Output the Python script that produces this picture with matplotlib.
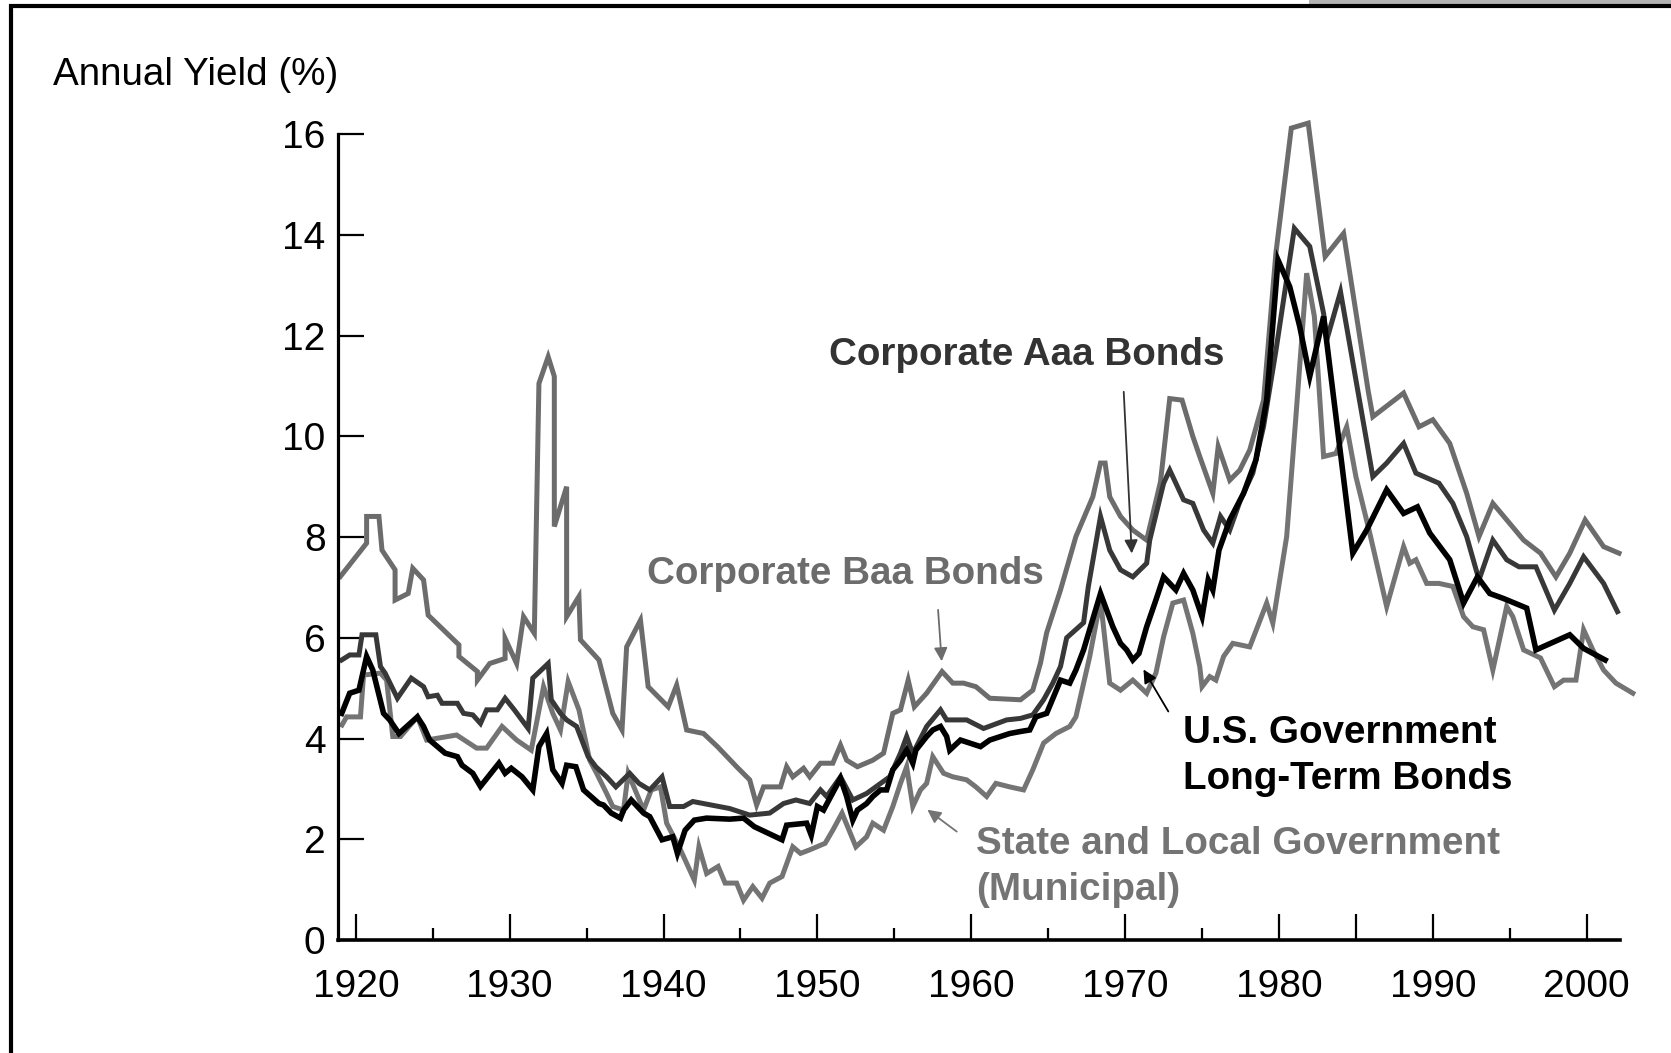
import matplotlib
matplotlib.use("Agg")
import matplotlib.pyplot as plt
from matplotlib.lines import Line2D
from matplotlib.patches import Rectangle

plt.rcParams['font.family'] = ['Liberation Sans', 'DejaVu Sans']

# Corporate Baa bonds
baa_years = [1919.0, 1920.7, 1920.7, 1921.5, 1921.7, 1922.55, 1922.55, 1923.4, 1923.7, 1924.4,
             1924.7, 1926.7, 1926.7, 1927.9, 1927.9, 1928.7, 1929.7, 1929.7, 1930.45, 1930.9,
             1931.6, 1931.9, 1932.5, 1932.9, 1932.9, 1933.7, 1933.7, 1934.5, 1934.6, 1935.2,
             1935.8, 1936.7, 1937.3, 1937.6, 1938.5, 1939.0, 1940.3, 1940.85, 1941.5, 1942.6,
             1943.5, 1944.75, 1945.6, 1946.05, 1946.5, 1947.6, 1948.0, 1948.4, 1949.1, 1949.5,
             1950.2, 1951.0, 1951.5, 1951.9, 1952.6, 1953.6, 1954.3, 1954.9, 1955.4, 1955.9,
             1956.3, 1957.1, 1958.1, 1958.8, 1959.5, 1960.3, 1961.2, 1963.2, 1964.0, 1964.5,
             1964.9, 1965.8, 1966.8, 1967.9, 1968.4, 1968.7, 1969.0, 1969.7, 1970.5, 1971.4,
             1972.3, 1972.9, 1973.7, 1974.4, 1974.85, 1975.7, 1976.05, 1976.8, 1977.45, 1978.1,
             1979.0, 1979.8, 1980.8, 1981.9, 1983.0, 1984.2, 1985.8, 1986.1, 1988.1, 1989.1,
             1990.0, 1991.1, 1992.2, 1993.0, 1993.9, 1995.0, 1995.9, 1997.0, 1998.0, 1998.9,
             1999.9, 2001.1, 2002.1]
baa_yield = [7.22, 7.88, 8.41, 8.41, 7.74, 7.35, 6.75, 6.88, 7.38, 7.15,
             6.45, 5.86, 5.63, 5.33, 5.16, 5.49, 5.59, 5.99, 5.49, 6.42,
             6.09, 11.05, 11.58, 11.19, 8.21, 9.00, 6.42, 6.82, 5.96, 5.76,
             5.56, 4.50, 4.17, 5.82, 6.35, 5.03, 4.63, 5.06, 4.17, 4.10,
             3.84, 3.44, 3.18, 2.68, 3.04, 3.04, 3.44, 3.24, 3.41, 3.24,
             3.51, 3.51, 3.87, 3.57, 3.44, 3.57, 3.71, 4.50, 4.57, 5.16,
             4.63, 4.90, 5.33, 5.10, 5.10, 5.03, 4.80, 4.77, 4.96, 5.50,
             6.10, 6.95, 8.01, 8.80, 9.47, 9.47, 8.80, 8.41, 8.14, 7.94,
             9.10, 10.75, 10.72, 10.00, 9.60, 8.87, 9.80, 9.13, 9.33, 9.73,
             10.72, 13.64, 16.12, 16.22, 13.57, 14.03, 10.90, 10.39, 10.86, 10.19,
             10.33, 9.86, 8.87, 8.01, 8.67, 8.27, 7.94, 7.68, 7.21, 7.68,
             8.34, 7.81, 7.68]

# Corporate Aaa bonds
aaa_years = [1919.08, 1919.6, 1920.2, 1920.4, 1921.3, 1921.6, 1921.9, 1922.7, 1923.6, 1924.4,
             1924.7, 1925.3, 1925.6, 1926.6, 1927.0, 1927.6, 1928.1, 1928.5, 1929.2, 1929.7,
             1930.3, 1931.2, 1931.5, 1932.5, 1932.7, 1933.3, 1933.7, 1934.35, 1935.1, 1935.6,
             1936.3, 1936.9, 1937.8, 1938.4, 1939.1, 1939.9, 1940.4, 1941.3, 1941.9, 1944.3,
             1945.6, 1946.9, 1947.8, 1948.6, 1949.5, 1950.2, 1950.6, 1951.5, 1952.3, 1953.2,
             1954.7, 1955.4, 1955.8, 1956.2, 1957.1, 1958.0, 1958.4, 1959.7, 1960.8, 1962.3,
             1963.2, 1964.0, 1964.7, 1965.3, 1965.8, 1966.2, 1967.3, 1967.6, 1968.4, 1969.0,
             1969.7, 1970.5, 1971.4, 1971.6, 1972.5, 1972.9, 1973.8, 1974.4, 1975.1, 1975.7,
             1976.2, 1976.8, 1977.5, 1978.3, 1979.0, 1979.8, 1981.0, 1982.0, 1982.9, 1983.1,
             1984.0, 1986.1, 1987.0, 1988.1, 1988.9, 1990.4, 1991.3, 1992.2, 1993.0, 1993.9,
             1994.8, 1995.6, 1996.7, 1997.9, 1998.9, 1999.8, 2001.1, 2002.0]
aaa_yield = [5.56, 5.66, 5.66, 6.06, 6.06, 5.43, 5.30, 4.80, 5.20, 5.03,
             4.83, 4.86, 4.70, 4.70, 4.50, 4.47, 4.30, 4.57, 4.57, 4.80,
             4.57, 4.20, 5.20, 5.49, 4.77, 4.50, 4.37, 4.24, 3.64, 3.44,
             3.24, 3.04, 3.31, 3.11, 2.98, 3.24, 2.65, 2.65, 2.75, 2.61,
             2.48, 2.52, 2.71, 2.78, 2.71, 2.98, 2.85, 3.24, 2.78, 2.91,
             3.24, 3.71, 4.04, 3.70, 4.24, 4.57, 4.37, 4.37, 4.20, 4.37,
             4.40, 4.47, 4.77, 5.10, 5.43, 6.00, 6.30, 7.00, 8.41, 7.74,
             7.35, 7.21, 7.48, 7.94, 9.07, 9.33, 8.74, 8.67, 8.14, 7.88,
             8.41, 8.14, 8.74, 9.27, 10.20, 11.70, 14.13, 13.77, 12.44, 11.91,
             12.87, 9.20, 9.47, 9.86, 9.27, 9.07, 8.67, 8.01, 7.15, 7.94,
             7.55, 7.41, 7.41, 6.55, 7.08, 7.61, 7.08, 6.52]

# U.S. Government long-term bonds
gov_years = [1919.08, 1919.6, 1920.2, 1920.7, 1921.1, 1921.8, 1922.2, 1922.8, 1924.0, 1924.4,
             1924.8, 1925.8, 1926.6, 1926.9, 1927.6, 1928.1, 1929.3, 1929.7, 1930.1, 1930.8,
             1931.5, 1931.9, 1932.4, 1932.8, 1933.4, 1933.7, 1934.3, 1934.8, 1935.8, 1936.1,
             1936.6, 1937.2, 1937.4, 1937.9, 1938.7, 1939.1, 1939.9, 1940.6, 1940.9, 1941.4,
             1942.0, 1942.8, 1944.3, 1945.2, 1945.9, 1947.7, 1948.0, 1949.3, 1949.6, 1950.0,
             1950.4, 1950.8, 1951.5, 1951.9, 1952.3, 1952.6, 1953.2, 1953.6, 1954.1, 1954.5,
             1954.9, 1955.4, 1955.8, 1956.2, 1956.4, 1957.1, 1957.5, 1958.0, 1958.4, 1958.6,
             1959.3, 1960.6, 1961.2, 1962.5, 1963.2, 1963.8, 1964.2, 1964.9, 1965.8, 1966.4,
             1966.8, 1967.3, 1968.4, 1969.2, 1969.7, 1970.1, 1970.5, 1970.9, 1971.4, 1972.0,
             1972.5, 1973.3, 1973.8, 1974.4, 1975.0, 1975.4, 1975.7, 1976.1, 1976.8, 1977.7,
             1978.5, 1979.2, 1979.94, 1980.7, 1981.35, 1982.0, 1982.9, 1984.8, 1985.7, 1987.0,
             1988.1, 1989.0, 1989.8, 1991.1, 1992.0, 1992.9, 1993.7, 1994.6, 1996.1, 1996.7,
             1998.9, 1999.8, 2001.2]
gov_yield = [4.50, 4.90, 4.96, 5.63, 5.36, 4.50, 4.37, 4.10, 4.43, 4.24,
             3.97, 3.71, 3.64, 3.47, 3.31, 3.05, 3.51, 3.31, 3.41, 3.24,
             2.98, 3.84, 4.10, 3.38, 3.11, 3.47, 3.44, 2.98, 2.71, 2.68,
             2.52, 2.42, 2.58, 2.78, 2.52, 2.45, 1.99, 2.05, 1.72, 2.18,
             2.38, 2.42, 2.40, 2.42, 2.25, 1.99, 2.28, 2.32, 2.08, 2.65,
             2.58, 2.81, 3.21, 2.85, 2.38, 2.58, 2.71, 2.85, 2.98, 2.98,
             3.38, 3.57, 3.77, 3.51, 3.77, 4.04, 4.17, 4.24, 4.04, 3.77,
             3.97, 3.84, 3.97, 4.10, 4.14, 4.17, 4.43, 4.50, 5.16, 5.10,
             5.36, 5.76, 6.88, 6.22, 5.89, 5.76, 5.56, 5.69, 6.22, 6.75,
             7.21, 6.95, 7.28, 6.95, 6.42, 7.15, 6.95, 7.74, 8.34, 8.87,
             9.53, 10.72, 13.50, 12.97, 12.18, 11.19, 12.38, 7.68, 8.14, 8.94,
             8.47, 8.60, 8.08, 7.55, 6.69, 7.21, 6.88, 6.78, 6.59, 5.76,
             6.06, 5.79, 5.56]

# State and local government (municipal) bonds
muni_years = [1919.1, 1919.4, 1920.3, 1920.5, 1921.6, 1922.0, 1922.4, 1922.9, 1924.0, 1924.6,
              1926.55, 1927.85, 1928.5, 1929.5, 1930.45, 1931.4, 1932.2, 1932.8, 1933.3, 1933.8,
              1934.5, 1935.2, 1935.65, 1936.3, 1936.7, 1937.4, 1937.7, 1938.25, 1938.7, 1939.2,
              1939.8, 1940.2, 1941.1, 1942.0, 1942.3, 1942.8, 1943.55, 1944.0, 1944.75, 1945.2,
              1945.8, 1946.4, 1946.9, 1947.7, 1948.4, 1948.9, 1949.5, 1950.5, 1951.0, 1951.6,
              1952.1, 1952.5, 1953.2, 1953.6, 1954.3, 1954.9, 1955.4, 1955.8, 1956.2, 1956.7,
              1957.1, 1957.5, 1958.2, 1958.8, 1959.7, 1960.3, 1961.0, 1961.6, 1962.5, 1963.4,
              1964.0, 1964.7, 1965.5, 1966.4, 1966.8, 1967.3, 1967.7, 1968.4, 1969.0, 1969.7,
              1970.5, 1971.4, 1972.0, 1972.5, 1973.1, 1973.8, 1974.4, 1974.85, 1975.0, 1975.5,
              1975.9, 1976.4, 1977.0, 1978.1, 1979.2, 1979.6, 1980.5, 1981.1, 1981.8, 1982.3,
              1982.9, 1983.7, 1984.4, 1985.0, 1985.9, 1987.0, 1988.1, 1988.5, 1988.9, 1989.6,
              1990.4, 1991.3, 1992.0, 1992.6, 1993.3, 1993.9, 1994.8, 1995.2, 1995.9, 1997.0,
              1997.9, 1998.5, 1999.3, 1999.8, 2000.4, 2001.1, 2001.9, 2003.0]
muni_yield = [4.27, 4.43, 4.43, 5.26, 5.30, 5.16, 4.04, 4.04, 4.43, 3.97,
              4.07, 3.81, 3.81, 4.24, 3.97, 3.77, 5.03, 4.50, 4.17, 5.13,
              4.57, 3.57, 3.31, 2.91, 2.65, 2.58, 3.31, 2.91, 2.58, 2.98,
              3.04, 2.32, 1.79, 1.19, 1.85, 1.32, 1.46, 1.13, 1.13, 0.79,
              1.06, 0.83, 1.13, 1.26, 1.85, 1.72, 1.79, 1.92, 2.18, 2.52,
              2.15, 1.85, 2.05, 2.32, 2.18, 2.65, 3.11, 3.44, 2.65, 2.98,
              3.11, 3.64, 3.31, 3.24, 3.18, 3.04, 2.85, 3.11, 3.04, 2.98,
              3.38, 3.91, 4.10, 4.24, 4.43, 5.10, 5.63, 6.75, 5.10, 4.96,
              5.16, 4.90, 5.30, 6.02, 6.69, 6.75, 6.09, 5.43, 5.03, 5.23,
              5.16, 5.63, 5.89, 5.82, 6.69, 6.29, 8.01, 10.39, 13.24, 12.38,
              9.60, 9.66, 10.19, 9.20, 8.08, 6.62, 7.81, 7.48, 7.55, 7.08,
              7.08, 7.02, 6.42, 6.22, 6.16, 5.36, 6.62, 6.42, 5.76, 5.60,
              5.03, 5.16, 5.16, 6.16, 5.76, 5.36, 5.10, 4.90]

decades = [1920, 1930, 1940, 1950, 1960, 1970, 1980, 1990, 2000]
half_decades = [1925, 1935, 1945, 1955, 1965, 1975, 1995]
y_ticks = [0, 2, 4, 6, 8, 10, 12, 14, 16]

W, H = 1671, 1053
fig = plt.figure(figsize=(W / 100, H / 100), dpi=100)
ax = fig.add_axes([338 / W, 1 - 940 / H, (1639 - 338) / W, (940 - 109) / H])

ax.plot(baa_years, baa_yield, color='#6c6c6c', lw=3.6, solid_joinstyle='miter', clip_on=False)
ax.plot(muni_years, muni_yield, color='#747474', lw=3.6, solid_joinstyle='miter', clip_on=False)
ax.plot(aaa_years, aaa_yield, color='#383838', lw=3.6, solid_joinstyle='miter', clip_on=False)
ax.plot(gov_years, gov_yield, color='black', lw=4.0, solid_joinstyle='miter', clip_on=False)

ax.set_xlim(1918.84, 2003.4)
ax.set_ylim(0, 16.5)
for s in ['top', 'right']:
    ax.spines[s].set_visible(False)
ax.spines['left'].set_linewidth(2.3)
ax.spines['bottom'].set_linewidth(2.6)
ax.spines['left'].set_bounds(0, 16)
ax.spines['bottom'].set_bounds(1918.84, 2002.15)

ax.set_xticks(decades + [1985])
ax.set_xticklabels([str(d) for d in decades] + [''])
ax.set_xticks(half_decades, minor=True)
ax.set_yticks(y_ticks)
ax.tick_params(axis='x', which='major', direction='in', length=19, width=1.6, pad=21, labelsize=28)
ax.tick_params(axis='x', which='minor', direction='in', length=9, width=1.6)
ax.tick_params(axis='y', direction='in', length=19, width=1.6, pad=9, labelsize=28)

fig.text(53 / W, 1 - 75 / H, 'Annual Yield (%)', fontsize=27.8, ha='left', va='center')

# labels and arrows
ax.text(1950.75, 11.62, 'Corporate Aaa Bonds', fontsize=27.8, fontweight='bold',
        color='#333333', ha='left', va='center')
ax.annotate('', xy=(1970.44, 7.62), xytext=(1969.9, 10.94),
            arrowprops=dict(arrowstyle='-|>', color='#333333', lw=1.3, mutation_scale=20))

ax.text(1938.92, 7.27, 'Corporate Baa Bonds', fontsize=27.8, fontweight='bold',
        color='#6c6c6c', ha='left', va='center')
ax.annotate('', xy=(1958.09, 5.48), xytext=(1957.83, 6.61),
            arrowprops=dict(arrowstyle='-|>', color='#6c6c6c', lw=1.3, mutation_scale=20))

ax.text(1973.76, 4.11, 'U.S. Government', fontsize=27.8, fontweight='bold',
        color='black', ha='left', va='center')
ax.text(1973.76, 3.20, 'Long-Term Bonds', fontsize=27.8, fontweight='bold',
        color='black', ha='left', va='center')
ax.annotate('', xy=(1971.1, 5.42), xytext=(1972.9, 4.49),
            arrowprops=dict(arrowstyle='-|>', color='black', lw=1.3, mutation_scale=20))

ax.text(1960.3, 1.91, 'State and Local Government', fontsize=27.8, fontweight='bold',
        color='#747474', ha='left', va='center')
ax.text(1960.3, 0.99, '(Municipal)', fontsize=27.8, fontweight='bold',
        color='#747474', ha='left', va='center')
ax.annotate('', xy=(1957.0, 2.62), xytext=(1959.2, 2.12),
            arrowprops=dict(arrowstyle='-|>', color='#747474', lw=1.3, mutation_scale=20))

# frame around the picture
fig.add_artist(Line2D([11 / W, 11 / W], [0, 1 - 4 / H], transform=fig.transFigure,
                      color='black', lw=3.0, solid_capstyle='butt'))
fig.add_artist(Line2D([9 / W, 1], [1 - 6 / H, 1 - 6 / H], transform=fig.transFigure,
                      color='black', lw=3.0, solid_capstyle='butt'))
fig.add_artist(Rectangle((1309 / W, 1 - 4 / H), 1 - 1309 / W, 4 / H, transform=fig.transFigure,
                         color='#b3b3b3', lw=0))

fig.savefig('out.png', dpi=100)
